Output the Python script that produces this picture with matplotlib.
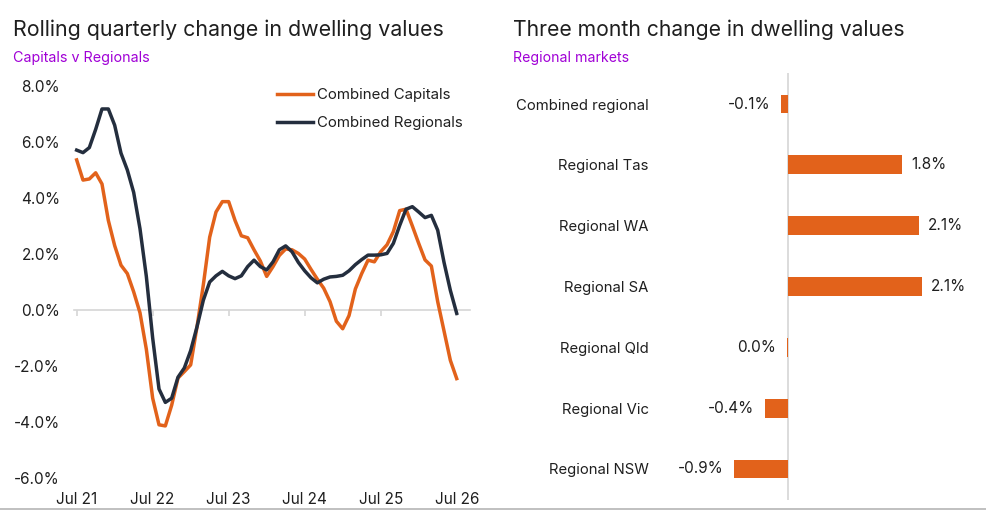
import numpy as np
import matplotlib
matplotlib.use("Agg")
import matplotlib.pyplot as plt
from matplotlib.lines import Line2D

plt.rcParams['font.family'] = ['Inter', 'DejaVu Sans']

# Rolling quarterly change, monthly from Jul 21 to Jul 26 (%)
capitals = [5.36, 4.64, 4.68, 4.9, 4.5, 3.2, 2.3, 1.6, 1.3, 0.65,
            -0.1, -1.4, -3.15, -4.1, -4.14, -3.4, -2.43, -2.2, -1.96, -0.6,
            0.9, 2.6, 3.5, 3.87, 3.87, 3.2, 2.65, 2.58, 2.15, 1.75,
            1.2, 1.55, 1.95, 2.18, 2.15, 2.02, 1.82, 1.45, 1.1, 0.78,
            0.3, -0.4, -0.67, -0.2, 0.75, 1.3, 1.78, 1.72, 2.08, 2.33,
            2.8, 3.55, 3.6, 3.0, 2.38, 1.79, 1.57, 0.3, -0.75, -1.8,
            -2.45]
regionals = [5.71, 5.62, 5.8, 6.45, 7.18, 7.18, 6.6, 5.6, 5.0, 4.2,
             2.9, 1.2, -1.0, -2.82, -3.3, -3.15, -2.4, -2.07, -1.45, -0.6,
             0.35, 1.0, 1.22, 1.38, 1.22, 1.12, 1.22, 1.55, 1.78, 1.55,
             1.43, 1.72, 2.15, 2.29, 2.08, 1.7, 1.4, 1.15, 0.97, 1.1,
             1.18, 1.2, 1.24, 1.4, 1.62, 1.8, 1.96, 1.96, 1.97, 2.02,
             2.38, 3.02, 3.6, 3.69, 3.5, 3.3, 3.38, 2.85, 1.7, 0.7,
             -0.12]
month_idx = np.arange(len(capitals))
xtick_pos = [0, 12, 24, 36, 48, 60]
xtick_labels = ['Jul 21', 'Jul 22', 'Jul 23', 'Jul 24', 'Jul 25', 'Jul 26']
yticks = [-6, -4, -2, 0, 2, 4, 6, 8]

# Three month change, regional markets (%)
regions = ['Combined regional', 'Regional Tas', 'Regional WA', 'Regional SA',
           'Regional Qld', 'Regional Vic', 'Regional NSW']
changes = [-0.11, 1.82, 2.09, 2.14, -0.02, -0.37, -0.86]
change_labels = ['-0.1%', '1.8%', '2.1%', '2.1%', '0.0%', '-0.4%', '-0.9%']

ORANGE = '#e2621b'
NAVY = '#242e3e'
PURPLE = '#a000d6'
TEXT = '#1f1f1f'
GRID = '#d6d6d6'

W, H = 986, 511
fig = plt.figure(figsize=(W / 100, H / 100), dpi=100)

# ---- left: line chart
ax1 = fig.add_axes([74 / W, (H - 478) / H, (470 - 74) / W, (478 - 86) / H])
ax1.plot(month_idx, capitals, color=ORANGE, lw=2.5, label='Combined Capitals',
         zorder=3, solid_joinstyle='round', clip_on=False)
ax1.plot(month_idx, regionals, color=NAVY, lw=2.5, label='Combined Regionals',
         zorder=3, solid_joinstyle='round', clip_on=False)
ax1.set_ylim(-6, 8)
ax1.set_xlim(-0.42, 62.1)
ax1.set_yticks(yticks)
ax1.set_yticklabels([f'{v:.1f}%' for v in yticks])
ax1.tick_params(axis='y', length=0, pad=10, labelsize=11, labelcolor=TEXT)
for s in ['top', 'right', 'left']:
    ax1.spines[s].set_visible(False)
ax1.spines['bottom'].set_position(('data', 0))
ax1.spines['bottom'].set_color(GRID)
ax1.spines['bottom'].set_linewidth(1.2)
ax1.set_xticks(xtick_pos)
ax1.tick_params(axis='x', direction='out', length=4, width=1.2, color=GRID,
                labelbottom=False)

sec = ax1.secondary_xaxis('bottom')
sec.set_xticks(xtick_pos)
sec.set_xticklabels(xtick_labels)
sec.tick_params(length=0, pad=10, labelsize=11, labelcolor=TEXT)
sec.spines['bottom'].set_visible(False)

ax1.legend(loc='upper left', bbox_to_anchor=(277 / W, 1 - 88 / H),
           bbox_transform=fig.transFigure, frameon=False, fontsize=10.8,
           borderpad=0, borderaxespad=0, handlelength=2.4, handletextpad=0.25,
           labelspacing=0.95, labelcolor=TEXT)

fig.text(13 / W, 1 - 30 / H, 'Rolling quarterly change in dwelling values',
         fontsize=15.4, color=TEXT, va='center', ha='left')
fig.text(13 / W, 1 - 58 / H, 'Capitals v Regionals', fontsize=10.3,
         color=PURPLE, va='center', ha='left')

# ---- right: bar chart
ax2 = fig.add_axes([650 / W, (H - 500) / H, (986 - 650) / W, (500 - 73) / H])
ypos = np.arange(len(regions))
ax2.barh(ypos, changes, height=0.31, color=ORANGE, zorder=2)
ax2.axvline(0, color=GRID, lw=1.2, zorder=1)
ax2.set_xlim((650 - 788) / 62.5, (986 - 788) / 62.5)
ax2.set_ylim(6.51, -0.51)
ax2.set_yticks(ypos)
ax2.set_yticklabels(regions)
ax2.tick_params(axis='y', length=0, pad=1, labelsize=10.7, labelcolor=TEXT)
ax2.set_xticks([])
for s in ax2.spines.values():
    s.set_visible(False)
for y, v, lab in zip(ypos, changes, change_labels):
    if v >= 0:
        ax2.annotate(lab, (v, y), xytext=(6.5, 0), textcoords='offset points',
                     ha='left', va='center', fontsize=11, color=TEXT)
    else:
        ax2.annotate(lab, (v, y), xytext=(-8, 0), textcoords='offset points',
                     ha='right', va='center', fontsize=11, color=TEXT)

fig.text(513 / W, 1 - 30 / H, 'Three month change in dwelling values',
         fontsize=15.2, color=TEXT, va='center', ha='left')
fig.text(513 / W, 1 - 58 / H, 'Regional markets', fontsize=10.2,
         color=PURPLE, va='center', ha='left')

# thin rule along the bottom edge
fig.add_artist(Line2D([0, 1], [1 - 509 / H, 1 - 509 / H], transform=fig.transFigure,
                      color='#b5b5b5', lw=1.2))

fig.savefig('out.png', dpi=100, facecolor='white')
